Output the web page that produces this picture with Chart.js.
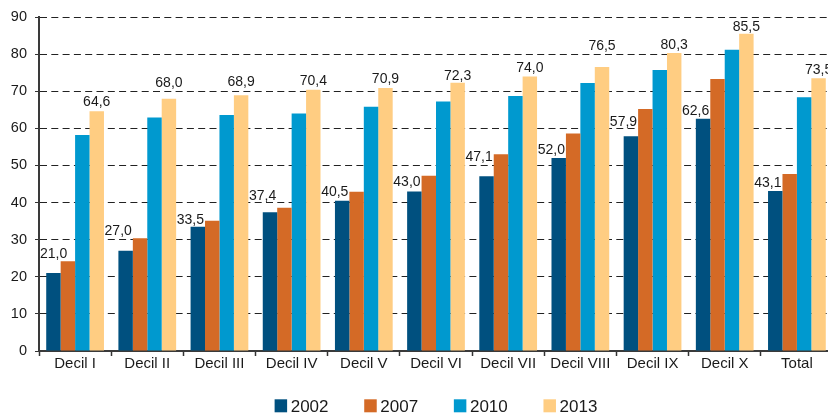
<!DOCTYPE html>
<html>
<head>
<meta charset="utf-8">
<script src="https://cdn.jsdelivr.net/npm/chart.js@4/dist/chart.umd.min.js"></script>
<style>
  html, body { margin: 0; padding: 0; background: #fff; overflow: hidden; }
  #wrap { position: relative; width: 834px; height: 413px; }
</style>
</head>
<body>
<div id="wrap"><canvas id="c"></canvas></div>
<script>
// Categories (income deciles) and the four survey years
const categories = ['Decil I', 'Decil II', 'Decil III', 'Decil IV', 'Decil V', 'Decil VI',
                    'Decil VII', 'Decil VIII', 'Decil IX', 'Decil X', 'Total'];
const seriesNames = ['2002', '2007', '2010', '2013'];

const values2002 = [21.0, 27.0, 33.5, 37.4, 40.5, 43.0, 47.1, 52.0, 57.9, 62.6, 43.1];
const values2007 = [24.2, 30.4, 35.1, 38.6, 42.9, 47.2, 53.0, 58.6, 65.2, 73.3, 47.7];
const values2010 = [58.2, 62.9, 63.6, 64.0, 65.8, 67.2, 68.7, 72.2, 75.7, 81.2, 68.4];
const values2013 = [64.6, 68.0, 68.9, 70.4, 70.9, 72.3, 74.0, 76.5, 80.3, 85.5, 73.5];

const yTicks = [0, 10, 20, 30, 40, 50, 60, 70, 80, 90];

const colors = ['#00507f', '#d46a26', '#0099cf', '#ffcd82'];
const FONT = '"Liberation Sans", Arial, Helvetica, sans-serif';
const TEXT = '#1a1a1a';

// Value labels above the 2002 and 2013 bars (gap between number and bar top, px)
const valueLabels = {
  id: 'valueLabels',
  afterDatasetsDraw(chart, args, opts) {
    const ctx = chart.ctx;
    const area = chart.chartArea;
    ctx.save();
    ctx.font = '14px ' + FONT;
    ctx.fillStyle = TEXT;
    ctx.textBaseline = 'alphabetic';
    opts.series.forEach(s => {
      const meta = chart.getDatasetMeta(s.index);
      const data = chart.data.datasets[s.index].data;
      meta.data.forEach((bar, i) => {
        const txt = data[i].toFixed(1).replace('.', ',');
        const w = ctx.measureText(txt).width;
        const y = bar.y - s.gaps[i];
        let x;
        if (s.align === 'right') {
          x = bar.x + bar.width / 2 - 1 - w;
          if (x < area.left + 1) x = area.left + 1;
        } else {
          x = bar.x - w / 2;
        }
        ctx.textAlign = 'left';
        ctx.fillText(txt, x, y);
      });
    });
    ctx.restore();
  }
};

// Legend row centred under the plot area
const bottomLegend = {
  id: 'bottomLegend',
  afterDraw(chart) {
    const ctx = chart.ctx;
    const area = chart.chartArea;
    const box = 12.5, gap = 3.6, spacing = 35.7;
    ctx.save();
    ctx.font = '17px ' + FONT;
    ctx.textBaseline = 'alphabetic';
    const items = chart.data.datasets.map(d => ({
      label: d.label, color: d.backgroundColor, w: ctx.measureText(d.label).width
    }));
    const total = items.reduce((a, it) => a + box + gap + it.w, 0) + spacing * (items.length - 1);
    let x = (area.left + area.right) / 2 - total / 2;
    const top = 399.3;
    items.forEach(it => {
      ctx.fillStyle = it.color;
      ctx.fillRect(x, top, box, 13);
      ctx.fillStyle = TEXT;
      ctx.fillText(it.label, x + box + gap, top + 13);
      x += box + gap + it.w + spacing;
    });
    ctx.restore();
  }
};

const seriesValues = [values2002, values2007, values2010, values2013];

new Chart(document.getElementById('c'), {
  type: 'bar',
  data: {
    labels: categories,
    datasets: seriesNames.map((name, k) => ({
      label: name,
      data: seriesValues[k],
      backgroundColor: colors[k],
      borderWidth: 0,
      categoryPercentage: 0.8,
      barPercentage: 1.0
    }))
  },
  options: {
    responsive: true,
    maintainAspectRatio: false,
    animation: false,
    layout: { padding: { left: 0, top: 17, right: 1, bottom: 0 } },
    plugins: {
      legend: { display: false },
      tooltip: { enabled: false },
      valueLabels: {
        series: [
          { index: 0, align: 'right', gaps: [15, 16, 3, 12.7, 5, 5.7, 15.3, 4, 10.3, 4, 3.6] },
          { index: 3, align: 'center', gaps: [5, 12, 9, 4.3, 5, 2.7, 4, 17, 4, 3, 4] }
        ]
      }
    },
    scales: {
      x: {
        grid: {
          drawOnChartArea: false,
          drawTicks: true,
          tickLength: 5,
          tickWidth: 1.5,
          tickColor: '#333'
        },
        border: { display: true, color: '#3a3a3a', width: 2 },
        ticks: {
          color: TEXT,
          font: { family: FONT, size: 15 },
          padding: -1,
          maxRotation: 0,
          autoSkip: false
        },
        afterFit(scale) { scale.height = 62; }
      },
      y: {
        min: 0,
        max: 90,
        afterBuildTicks(scale) { scale.ticks = yTicks.map(v => ({ value: v })); },
        grid: {
          color: '#222',
          lineWidth: 1,
          drawTicks: true,
          tickLength: 4,
          tickColor: '#333',
          tickWidth: 1
        },
        border: { display: true, color: '#3a3a3a', width: 2, dash: [7, 4.3] },
        ticks: {
          color: TEXT,
          font: { family: FONT, size: 14.5 },
          padding: 8
        },
        afterFit(scale) { scale.width = 39; }
      }
    }
  },
  plugins: [valueLabels, bottomLegend]
});
</script>
</body>
</html>
